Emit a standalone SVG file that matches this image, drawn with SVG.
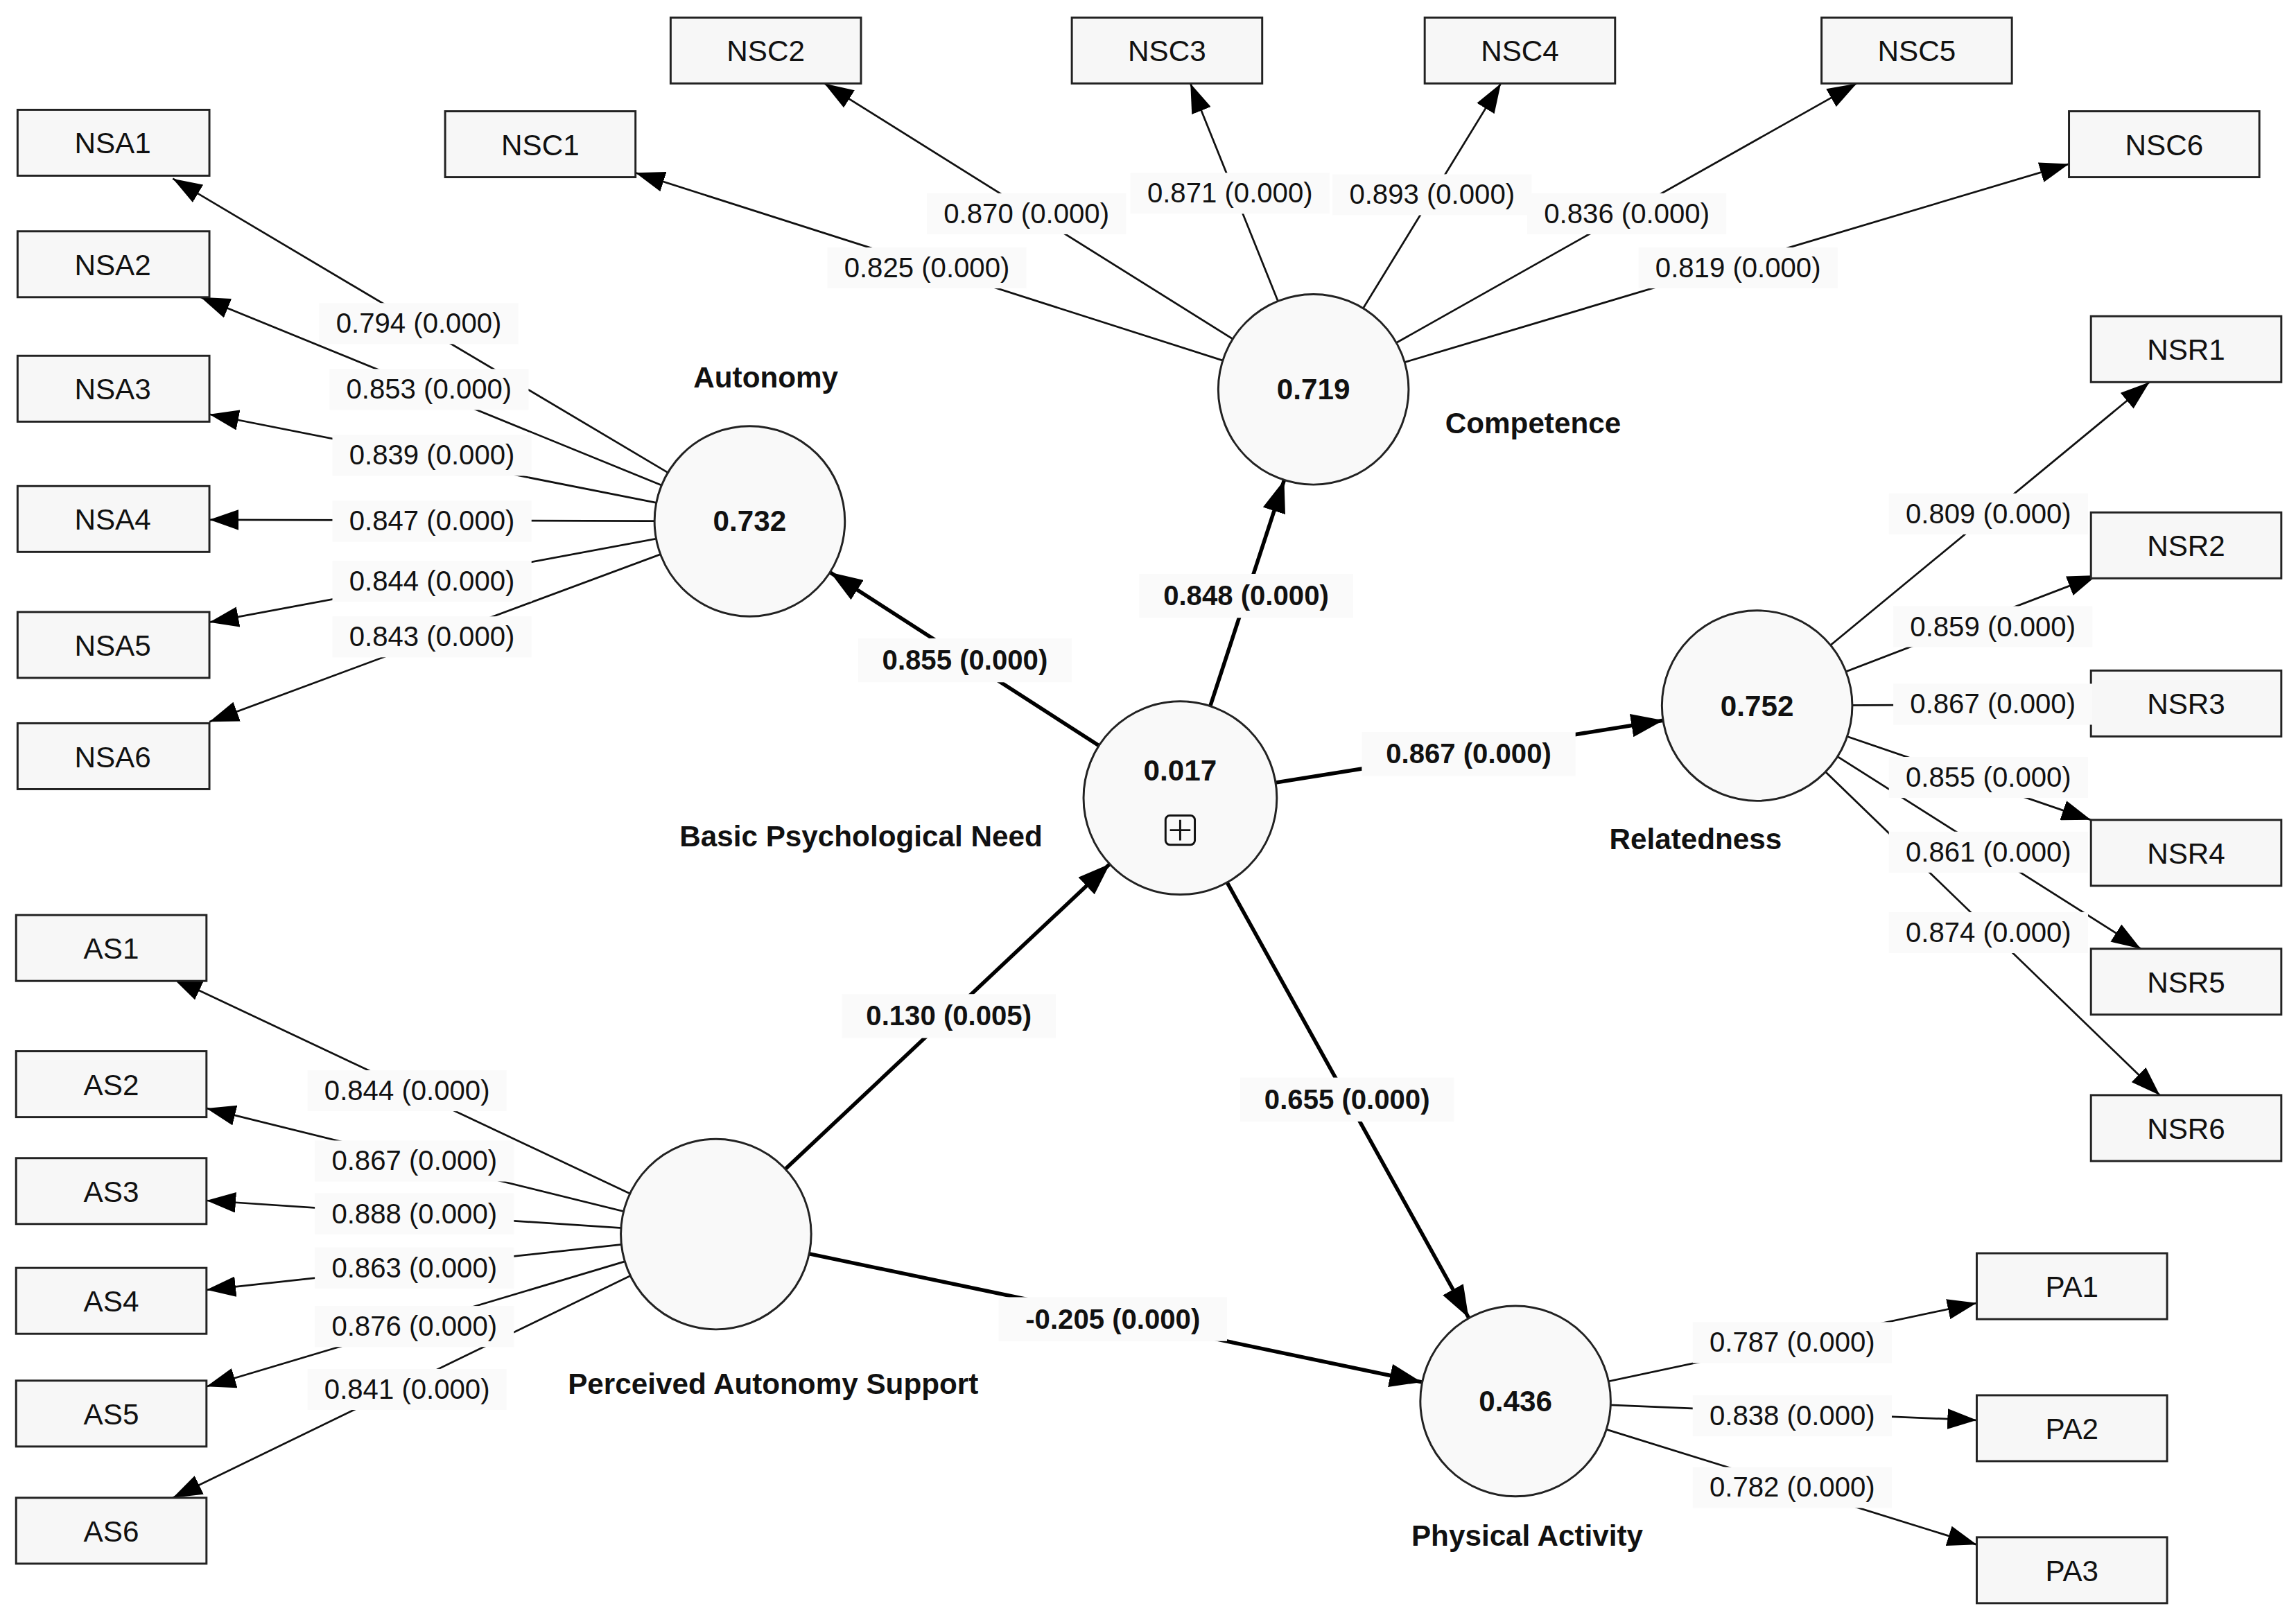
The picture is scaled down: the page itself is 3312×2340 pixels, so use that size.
<svg xmlns="http://www.w3.org/2000/svg" width="3312" height="2340" viewBox="0 0 3312 2340">
<style>
.box{fill:#f7f7f7;stroke:#222;stroke-width:1.4}
.cir{fill:#f9f9f9;stroke:#222;stroke-width:1.4}
.t{font-family:"Liberation Sans",Arial,sans-serif;font-size:20px;fill:#111;text-anchor:middle;dominant-baseline:central}
.b{font-weight:bold}
.e{stroke:#111;stroke-width:1.3;marker-end:url(#a)}
.s{stroke:#000;stroke-width:2.6;marker-end:url(#a2)}
.lb{fill:#fafafa}
.lt{font-family:"Liberation Sans",Arial,sans-serif;font-size:19px;fill:#111;text-anchor:middle;dominant-baseline:central}
</style>
<defs>
<marker id="a" markerUnits="userSpaceOnUse" markerWidth="20" markerHeight="14" refX="20" refY="7" orient="auto"><path d="M0,0L20,7L0,14z" fill="#000"/></marker>
<marker id="a2" markerUnits="userSpaceOnUse" markerWidth="22" markerHeight="16" refX="22" refY="8" orient="auto"><path d="M0,0L22,8L0,16z" fill="#000"/></marker>
</defs>
<rect width="3312" height="2340" fill="#fff"/>
<g transform="scale(2.1122)">
<g id="connectors">
<line class="e" x1="512" y1="356" x2="118" y2="122"/>
<line class="e" x1="512" y1="356" x2="137" y2="203"/>
<line class="e" x1="512" y1="356" x2="143" y2="283"/>
<line class="e" x1="512" y1="356" x2="143" y2="355"/>
<line class="e" x1="512" y1="356" x2="143" y2="425"/>
<line class="e" x1="512" y1="356" x2="143" y2="493"/>
<line class="e" x1="897" y1="266" x2="434" y2="118"/>
<line class="e" x1="897" y1="266" x2="563" y2="57"/>
<line class="e" x1="897" y1="266" x2="813" y2="57"/>
<line class="e" x1="897" y1="266" x2="1025" y2="57"/>
<line class="e" x1="897" y1="266" x2="1268" y2="57"/>
<line class="e" x1="897" y1="266" x2="1413" y2="112"/>
<line class="e" x1="1200" y1="482" x2="1468" y2="261"/>
<line class="e" x1="1200" y1="482" x2="1432" y2="393"/>
<line class="e" x1="1200" y1="482" x2="1432" y2="481"/>
<line class="e" x1="1200" y1="482" x2="1428" y2="560"/>
<line class="e" x1="1200" y1="482" x2="1462" y2="648"/>
<line class="e" x1="1200" y1="482" x2="1475" y2="748"/>
<line class="e" x1="489" y1="843" x2="118" y2="668"/>
<line class="e" x1="489" y1="843" x2="141" y2="757"/>
<line class="e" x1="489" y1="843" x2="141" y2="820"/>
<line class="e" x1="489" y1="843" x2="141" y2="881"/>
<line class="e" x1="489" y1="843" x2="141" y2="947"/>
<line class="e" x1="489" y1="843" x2="118" y2="1023"/>
<line class="e" x1="1035" y1="957" x2="1350" y2="890"/>
<line class="e" x1="1035" y1="957" x2="1350" y2="970"/>
<line class="e" x1="1035" y1="957" x2="1350" y2="1055"/>
<line class="s" x1="806" y1="545" x2="567" y2="391"/>
<line class="s" x1="806" y1="545" x2="877" y2="328"/>
<line class="s" x1="806" y1="545" x2="1136" y2="492"/>
<line class="s" x1="489" y1="843" x2="758" y2="590"/>
<line class="s" x1="806" y1="545" x2="1003" y2="900"/>
<line class="s" x1="489" y1="843" x2="971" y2="944"/>
</g>
<g id="indicators">
<g id="NSA1"><rect class="box" x="12" y="75" width="131" height="45"/><text class="t" x="77" y="98">NSA1</text></g>
<g id="NSA2"><rect class="box" x="12" y="158" width="131" height="45"/><text class="t" x="77" y="181">NSA2</text></g>
<g id="NSA3"><rect class="box" x="12" y="243" width="131" height="45"/><text class="t" x="77" y="266">NSA3</text></g>
<g id="NSA4"><rect class="box" x="12" y="332" width="131" height="45"/><text class="t" x="77" y="355">NSA4</text></g>
<g id="NSA5"><rect class="box" x="12" y="418" width="131" height="45"/><text class="t" x="77" y="441">NSA5</text></g>
<g id="NSA6"><rect class="box" x="12" y="494" width="131" height="45"/><text class="t" x="77" y="517">NSA6</text></g>
<g id="NSC1"><rect class="box" x="304" y="76" width="130" height="45"/><text class="t" x="369" y="99">NSC1</text></g>
<g id="NSC2"><rect class="box" x="458" y="12" width="130" height="45"/><text class="t" x="523" y="35">NSC2</text></g>
<g id="NSC3"><rect class="box" x="732" y="12" width="130" height="45"/><text class="t" x="797" y="35">NSC3</text></g>
<g id="NSC4"><rect class="box" x="973" y="12" width="130" height="45"/><text class="t" x="1038" y="35">NSC4</text></g>
<g id="NSC5"><rect class="box" x="1244" y="12" width="130" height="45"/><text class="t" x="1309" y="35">NSC5</text></g>
<g id="NSC6"><rect class="box" x="1413" y="76" width="130" height="45"/><text class="t" x="1478" y="99">NSC6</text></g>
<g id="NSR1"><rect class="box" x="1428" y="216" width="130" height="45"/><text class="t" x="1493" y="239">NSR1</text></g>
<g id="NSR2"><rect class="box" x="1428" y="350" width="130" height="45"/><text class="t" x="1493" y="373">NSR2</text></g>
<g id="NSR3"><rect class="box" x="1428" y="458" width="130" height="45"/><text class="t" x="1493" y="481">NSR3</text></g>
<g id="NSR4"><rect class="box" x="1428" y="560" width="130" height="45"/><text class="t" x="1493" y="583">NSR4</text></g>
<g id="NSR5"><rect class="box" x="1428" y="648" width="130" height="45"/><text class="t" x="1493" y="671">NSR5</text></g>
<g id="NSR6"><rect class="box" x="1428" y="748" width="130" height="45"/><text class="t" x="1493" y="771">NSR6</text></g>
<g id="AS1"><rect class="box" x="11" y="625" width="130" height="45"/><text class="t" x="76" y="648">AS1</text></g>
<g id="AS2"><rect class="box" x="11" y="718" width="130" height="45"/><text class="t" x="76" y="741">AS2</text></g>
<g id="AS3"><rect class="box" x="11" y="791" width="130" height="45"/><text class="t" x="76" y="814">AS3</text></g>
<g id="AS4"><rect class="box" x="11" y="866" width="130" height="45"/><text class="t" x="76" y="889">AS4</text></g>
<g id="AS5"><rect class="box" x="11" y="943" width="130" height="45"/><text class="t" x="76" y="966">AS5</text></g>
<g id="AS6"><rect class="box" x="11" y="1023" width="130" height="45"/><text class="t" x="76" y="1046">AS6</text></g>
<g id="PA1"><rect class="box" x="1350" y="856" width="130" height="45"/><text class="t" x="1415" y="879">PA1</text></g>
<g id="PA2"><rect class="box" x="1350" y="953" width="130" height="45"/><text class="t" x="1415" y="976">PA2</text></g>
<g id="PA3"><rect class="box" x="1350" y="1050" width="130" height="45"/><text class="t" x="1415" y="1073">PA3</text></g>
</g>
<g id="constructs">
<g id="autonomy"><circle class="cir" cx="512" cy="356" r="65"/><text class="t b" x="512" y="356">0.732</text><text class="t b" x="523" y="258">Autonomy</text></g>
<g id="competence"><circle class="cir" cx="897" cy="266" r="65"/><text class="t b" x="897" y="266">0.719</text><text class="t b" x="1047" y="289">Competence</text></g>
<g id="relatedness"><circle class="cir" cx="1200" cy="482" r="65"/><text class="t b" x="1200" y="482">0.752</text><text class="t b" x="1158" y="573">Relatedness</text></g>
<g id="bpn"><circle class="cir" cx="806" cy="545" r="66"/><text class="t b" x="806" y="526">0.017</text><rect x="796" y="557" width="20" height="20" rx="3" fill="none" stroke="#111" stroke-width="1.4"/><path d="M806,560V574M799,567H813" stroke="#111" stroke-width="1.4"/><text class="t b" x="588" y="571">Basic Psychological Need</text></g>
<g id="pas"><circle class="cir" cx="489" cy="843" r="65"/><text class="t b" x="528" y="945">Perceived Autonomy Support</text></g>
<g id="pa"><circle class="cir" cx="1035" cy="957" r="65"/><text class="t b" x="1035" y="957">0.436</text><text class="t b" x="1043" y="1049">Physical Activity</text></g>
</g>
<g id="labels">
<g class="lb">
<rect x="218" y="207" width="136" height="28"/><rect x="225" y="252" width="136" height="28"/><rect x="227" y="297" width="136" height="28"/><rect x="227" y="342" width="136" height="28"/><rect x="227" y="383" width="136" height="28"/><rect x="227" y="421" width="136" height="28"/>
<rect x="565" y="169" width="136" height="28"/><rect x="633" y="132" width="136" height="28"/><rect x="772" y="118" width="136" height="28"/><rect x="910" y="119" width="136" height="28"/><rect x="1043" y="132" width="136" height="28"/><rect x="1119" y="169" width="136" height="28"/>
<rect x="1290" y="337" width="136" height="28"/><rect x="1293" y="414" width="136" height="28"/><rect x="1293" y="467" width="136" height="28"/><rect x="1290" y="517" width="136" height="28"/><rect x="1290" y="568" width="136" height="28"/><rect x="1290" y="623" width="136" height="28"/>
<rect x="210" y="731" width="136" height="28"/><rect x="215" y="779" width="136" height="28"/><rect x="215" y="815" width="136" height="28"/><rect x="215" y="852" width="136" height="28"/><rect x="215" y="892" width="136" height="28"/><rect x="210" y="935" width="136" height="28"/>
<rect x="1156" y="903" width="136" height="28"/><rect x="1156" y="953" width="136" height="28"/><rect x="1156" y="1002" width="136" height="28"/>
<rect x="586" y="436" width="146" height="30"/><rect x="778" y="392" width="146" height="30"/><rect x="930" y="500" width="146" height="30"/><rect x="575" y="679" width="146" height="30"/><rect x="847" y="736" width="146" height="30"/><rect x="682" y="886" width="156" height="30"/>
</g>
<text class="lt" x="286" y="221">0.794 (0.000)</text><text class="lt" x="293" y="266">0.853 (0.000)</text><text class="lt" x="295" y="311">0.839 (0.000)</text><text class="lt" x="295" y="356">0.847 (0.000)</text><text class="lt" x="295" y="397">0.844 (0.000)</text><text class="lt" x="295" y="435">0.843 (0.000)</text>
<text class="lt" x="633" y="183">0.825 (0.000)</text><text class="lt" x="701" y="146">0.870 (0.000)</text><text class="lt" x="840" y="132">0.871 (0.000)</text><text class="lt" x="978" y="133">0.893 (0.000)</text><text class="lt" x="1111" y="146">0.836 (0.000)</text><text class="lt" x="1187" y="183">0.819 (0.000)</text>
<text class="lt" x="1358" y="351">0.809 (0.000)</text><text class="lt" x="1361" y="428">0.859 (0.000)</text><text class="lt" x="1361" y="481">0.867 (0.000)</text><text class="lt" x="1358" y="531">0.855 (0.000)</text><text class="lt" x="1358" y="582">0.861 (0.000)</text><text class="lt" x="1358" y="637">0.874 (0.000)</text>
<text class="lt" x="278" y="745">0.844 (0.000)</text><text class="lt" x="283" y="793">0.867 (0.000)</text><text class="lt" x="283" y="829">0.888 (0.000)</text><text class="lt" x="283" y="866">0.863 (0.000)</text><text class="lt" x="283" y="906">0.876 (0.000)</text><text class="lt" x="278" y="949">0.841 (0.000)</text>
<text class="lt" x="1224" y="917">0.787 (0.000)</text><text class="lt" x="1224" y="967">0.838 (0.000)</text><text class="lt" x="1224" y="1016">0.782 (0.000)</text>
<text class="lt b" x="659" y="451">0.855 (0.000)</text><text class="lt b" x="851" y="407">0.848 (0.000)</text><text class="lt b" x="1003" y="515">0.867 (0.000)</text><text class="lt b" x="648" y="694">0.130 (0.005)</text><text class="lt b" x="920" y="751">0.655 (0.000)</text><text class="lt b" x="760" y="901">-0.205 (0.000)</text>
</g>
</g>
</svg>
